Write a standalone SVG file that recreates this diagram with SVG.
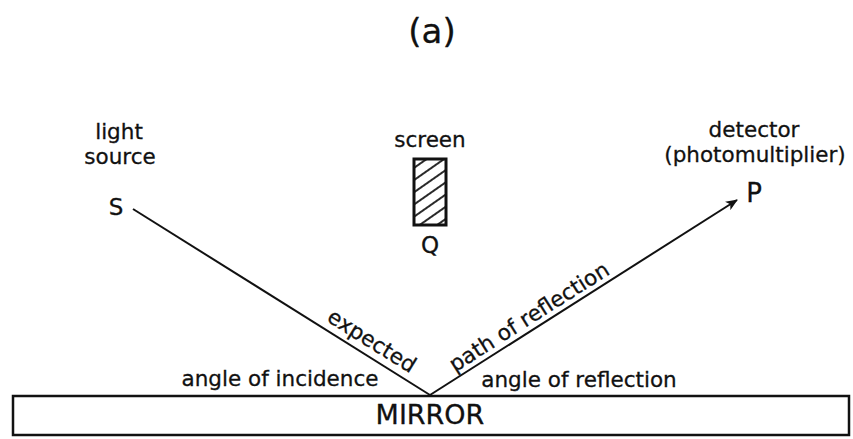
<svg xmlns="http://www.w3.org/2000/svg" width="853" height="439" viewBox="0 0 853 439">
<style>
text{font-family:"DejaVu Sans","Liberation Sans",sans-serif;fill:#111;stroke:#111;stroke-width:0.3}
.lbl{font-size:21.5px}
.big{font-size:23px}
.ray{stroke:#111;stroke-width:2;fill:none}
</style>
<defs>
<pattern id="hatch" patternUnits="userSpaceOnUse" width="10" height="10" patternTransform="rotate(-35)">
<line x1="0" y1="5" x2="10" y2="5" stroke="#111" stroke-width="1.8"/>
</pattern>
<marker id="arr" viewBox="0 0 12 10" refX="11" refY="5" markerWidth="13" markerHeight="10" markerUnits="userSpaceOnUse" orient="auto">
<path d="M0,0 L12,5 L0,10 L3,5 Z" fill="#111"/>
</marker>
</defs>
<text x="432" y="43" text-anchor="middle" font-size="34">(a)</text>
<g id="source">
<text class="lbl" x="119" y="139" text-anchor="middle">light</text>
<text class="lbl" x="120" y="164" text-anchor="middle">source</text>
<text class="big" x="116" y="215" text-anchor="middle">S</text>
</g>
<g id="screen">
<text class="lbl" x="430" y="147" text-anchor="middle">screen</text>
<rect x="414" y="159" width="32" height="66" fill="url(#hatch)" stroke="#111" stroke-width="3"/>
<text class="big" x="430" y="253" text-anchor="middle">Q</text>
</g>
<g id="detector">
<text class="lbl" x="754" y="137" text-anchor="middle">detector</text>
<text class="lbl" x="755" y="162" text-anchor="middle">(photomultiplier)</text>
<text x="754" y="202" text-anchor="middle" font-size="26">P</text>
</g>
<g id="mirror">
<rect x="13" y="396" width="836" height="39" fill="#fff" stroke="#111" stroke-width="2.5"/>
<text x="430" y="424" text-anchor="middle" font-size="27" font-family="Liberation Sans, Arial, sans-serif">MIRROR</text>
</g>
<g id="connectors">
<line class="ray" x1="133" y1="209" x2="430" y2="395"/>
<line class="ray" x1="430" y1="395" x2="737" y2="200" marker-end="url(#arr)"/>
</g>
<g id="labels">
<text class="lbl" transform="translate(368,347) rotate(32)" text-anchor="middle">expected</text>
<text class="lbl" transform="translate(533,323) rotate(-32.4)" text-anchor="middle">path of reflection</text>
<text class="lbl" x="280" y="386" text-anchor="middle">angle of incidence</text>
<text class="lbl" x="579" y="387" text-anchor="middle">angle of reflection</text>
</g>
</svg>
